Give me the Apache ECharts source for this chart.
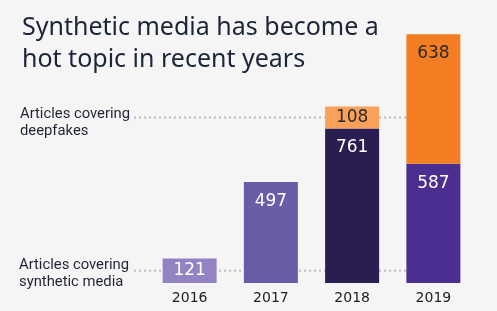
<!DOCTYPE html>
<html>
<head>
<meta charset="utf-8">
<script src="https://cdn.jsdelivr.net/npm/echarts@6/dist/echarts.min.js"></script>
<style>
  html, body { margin: 0; padding: 0; background: #f5f5f5; }
  #chart { width: 497px; height: 311px; }
</style>
</head>
<body>
<div id="chart"></div>
<script>
const years = ["2016", "2017", "2018", "2019"];
const syntheticMedia = [121, 497, 761, 587];
const deepfakes = [null, null, 108, 638];

const synthColors = ["#9383c3", "#6b5ca8", "#2a1d51", "#4b2e8f"];
const deepColors = ["#f9a05a", "#f9a05a", "#f9a05a", "#f37d22"];

const chart = echarts.init(document.getElementById("chart"));

const valueFont = { fontFamily: "DejaVu Sans", fontSize: 17 };

chart.setOption({
  backgroundColor: "#f5f5f5",
  animation: false,
  grid: { left: 149, right: 23, top: 19, bottom: 28 },
  xAxis: {
    type: "category",
    data: years,
    axisLine: { show: false },
    axisTick: { show: false },
    axisLabel: { color: "#222", fontFamily: "DejaVu Sans", fontSize: 14, margin: 8 },
  },
  yAxis: { type: "value", min: 0, max: 1300, show: false },
  series: [
    {
      name: "Articles covering synthetic media",
      type: "bar",
      stack: "all",
      barWidth: 54,
      z: 3,
      data: syntheticMedia.map((v, i) => ({
        value: v,
        itemStyle: { color: synthColors[i] },
        label: { position: i === 0 ? "inside" : "insideTop", distance: 11 },
      })),
      label: { show: true, color: "#fff", ...valueFont },
    },
    {
      name: "Articles covering deepfakes",
      type: "bar",
      stack: "all",
      barWidth: 54,
      z: 3,
      data: deepfakes.map((v, i) => ({
        value: v,
        itemStyle: { color: deepColors[i] },
        label: { position: i === 2 ? "inside" : "insideTop", distance: 11 },
      })),
      label: { show: true, color: "#2a2a2a", ...valueFont },
    },
  ],
});

// dotted guide lines at the middle of the 2016 and 2018-deepfake segments
const yLow = chart.convertToPixel({ seriesIndex: 0 }, [0, syntheticMedia[0] / 2])[1];
const yHigh = chart.convertToPixel({ seriesIndex: 0 }, [2, syntheticMedia[2] + deepfakes[2] / 2])[1];
const xEnd = chart.convertToPixel({ seriesIndex: 0 }, [3, 0])[0];

const dotted = (y) => ({
  type: "line",
  z: 1,
  shape: { x1: 134, y1: y, x2: xEnd, y2: y },
  style: { stroke: "#b9bdc5", lineWidth: 2, lineDash: [2, 3] },
});
const labelFont = { fill: "#1f2533", font: "14.8px Roboto", lineHeight: 17 };

chart.setOption({
  graphic: [
    {
      type: "text",
      left: 22,
      top: 12,
      style: {
        text: "Synthetic media has become a\nhot topic in recent years",
        fill: "#1c2536",
        font: "25px 'Noto Sans'",
        lineHeight: 32,
      },
    },
    dotted(yHigh),
    dotted(yLow),
    { type: "text", x: 20, y: yHigh - 12, style: { text: "Articles covering\ndeepfakes", ...labelFont } },
    { type: "text", x: 19, y: yLow - 14, style: { text: "Articles covering\nsynthetic media", ...labelFont } },
  ],
});
</script>
</body>
</html>
